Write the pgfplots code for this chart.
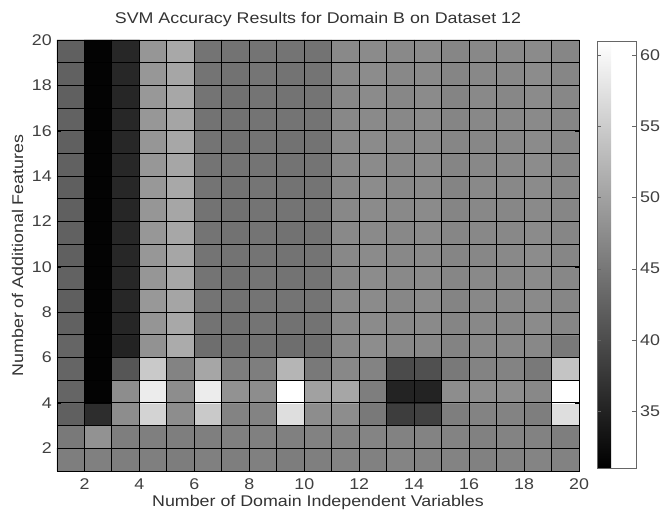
\documentclass[border=0pt]{standalone}
\usepackage{pgfplots}
\pgfplotsset{compat=1.18}
\usepackage{fontspec}
\setmainfont{Liberation Sans}[FakeStretch=1.15]
\begin{document}
\fontsize{15.5bp}{18bp}\selectfont
\begin{tikzpicture}
\useasboundingbox (0,0) rectangle (662bp,511bp);
\begin{axis}[
  at={(57bp,40bp)}, anchor=south west,
  scale only axis, width=522bp, height=431bp,
  xmin=1, xmax=20, ymin=1, ymax=20,
  xtick={2,4,...,20}, ytick={2,4,...,20},
  minor xtick={1,3,...,19}, minor ytick={1,3,...,19},
  grid=both,
  major grid style={black, line width=0.9bp},
  minor grid style={black, line width=0.9bp},
  axis on top,
  tick align=inside, major tick length=4bp, minor tick length=0pt,
  tick style={black},
  axis line style={black, line width=0.8bp},
  /pgf/number format/assume math mode=true,
  xticklabel style={anchor=base, yshift=-18bp, inner sep=0pt, text=black!75},
  yticklabel style={anchor=east, xshift=-5bp, inner sep=0pt, text=black!75},
  title={SVM Accuracy Results for Domain B on Dataset 12},
  title style={at={(axis description cs:0.5,1.0255)}, anchor=base, inner sep=0pt, text=black!80},
  xlabel={Number of Domain Independent Variables},
  xlabel style={at={(axis description cs:0.5,-0.0835)}, anchor=base, inner sep=0pt, text=black!80},
  ylabel={Number of Additional Features},
  ylabel style={at={(axis description cs:-0.0651,0.5)}, anchor=base, inner sep=0pt, text=black!80},
  colormap={bw}{gray(0cm)=(0); gray(1cm)=(1)},
  point meta min=31, point meta max=61,
  colorbar,
  colorbar shift/.style={xshift=18bp},
  colorbar style={
    at={(parent axis.north east)}, anchor=north west,
    yshift=-1bp,
    scale only axis, width=39bp, height=427bp,
    ytick={35,40,...,60},
    yticklabel pos=right, ytick pos=both,
    tick align=inside, major tick length=4bp,
    tick style={black!60},
    axis line style={black!60, line width=0.6bp},
    /pgf/number format/assume math mode=true,
    yticklabel style={anchor=west, xshift=4bp, inner sep=0pt, text=black!75},
  },
]
\addplot[matrix plot*, mesh/cols=19, mesh/rows=19, point meta=explicit] coordinates {
(1.5,1.5)[45.7] (2.5,1.5)[45.9] (3.5,1.5)[45.7] (4.5,1.5)[45.8] (5.5,1.5)[45.6] (6.5,1.5)[45.9] (7.5,1.5)[45.7] (8.5,1.5)[46.0] (9.5,1.5)[45.6] (10.5,1.5)[45.8] (11.5,1.5)[46.3] (12.5,1.5)[46.1] (13.5,1.5)[46.4] (14.5,1.5)[46.2] (15.5,1.5)[46.3] (16.5,1.5)[46.1] (17.5,1.5)[46.2] (18.5,1.5)[46.4] (19.5,1.5)[46.2]

(1.5,2.5)[45.1] (2.5,2.5)[48.1] (3.5,2.5)[45.7] (4.5,2.5)[45.8] (5.5,2.5)[45.7] (6.5,2.5)[45.8] (7.5,2.5)[46.0] (8.5,2.5)[45.9] (9.5,2.5)[46.0] (10.5,2.5)[46.2] (11.5,2.5)[46.3] (12.5,2.5)[46.4] (13.5,2.5)[46.2] (14.5,2.5)[46.3] (15.5,2.5)[46.3] (16.5,2.5)[46.1] (17.5,2.5)[46.3] (18.5,2.5)[46.2] (19.5,2.5)[45.7]

(1.5,3.5)[42.2] (2.5,3.5)[36.3] (3.5,3.5)[47.5] (4.5,3.5)[55.7] (5.5,3.5)[47.5] (6.5,3.5)[54.5] (7.5,3.5)[46.3] (8.5,3.5)[46.3] (9.5,3.5)[56.9] (10.5,3.5)[47.5] (11.5,3.5)[47.5] (12.5,3.5)[45.1] (13.5,3.5)[38.1] (14.5,3.5)[38.6] (15.5,3.5)[45.7] (16.5,3.5)[46.3] (17.5,3.5)[46.3] (18.5,3.5)[45.7] (19.5,3.5)[56.9]

(1.5,4.5)[42.8] (2.5,4.5)[31.3] (3.5,4.5)[47.5] (4.5,4.5)[58.6] (5.5,4.5)[47.5] (6.5,4.5)[58.6] (7.5,4.5)[48.1] (8.5,4.5)[47.5] (9.5,4.5)[61.0] (10.5,4.5)[49.8] (11.5,4.5)[50.4] (12.5,4.5)[45.7] (13.5,4.5)[35.1] (14.5,4.5)[35.1] (15.5,4.5)[47.5] (16.5,4.5)[47.5] (17.5,4.5)[47.5] (18.5,4.5)[46.9] (19.5,4.5)[61.0]

(1.5,5.5)[42.8] (2.5,5.5)[31.3] (3.5,5.5)[41.0] (4.5,5.5)[54.5] (5.5,5.5)[46.3] (6.5,5.5)[50.4] (7.5,5.5)[45.7] (8.5,5.5)[45.7] (9.5,5.5)[52.2] (10.5,5.5)[45.1] (11.5,5.5)[46.9] (12.5,5.5)[46.3] (13.5,5.5)[39.8] (14.5,5.5)[40.4] (15.5,5.5)[45.1] (16.5,5.5)[46.3] (17.5,5.5)[46.3] (18.5,5.5)[45.1] (19.5,5.5)[53.9]

(1.5,6.5)[42.8] (2.5,6.5)[31.3] (3.5,6.5)[35.1] (4.5,6.5)[48.1] (5.5,6.5)[51.0] (6.5,6.5)[43.9] (7.5,6.5)[43.9] (8.5,6.5)[44.2] (9.5,6.5)[43.9] (10.5,6.5)[43.9] (11.5,6.5)[46.9] (12.5,6.5)[47.5] (13.5,6.5)[46.9] (14.5,6.5)[46.9] (15.5,6.5)[46.3] (16.5,6.5)[46.9] (17.5,6.5)[46.9] (18.5,6.5)[46.9] (19.5,6.5)[45.1]

(1.5,7.5)[42.3] (2.5,7.5)[31.3] (3.5,7.5)[35.4] (4.5,7.5)[48.4] (5.5,7.5)[50.6] (6.5,7.5)[44.4] (7.5,7.5)[44.1] (8.5,7.5)[44.6] (9.5,7.5)[44.3] (10.5,7.5)[44.4] (11.5,7.5)[46.9] (12.5,7.5)[47.2] (13.5,7.5)[46.9] (14.5,7.5)[47.1] (15.5,7.5)[46.5] (16.5,7.5)[46.9] (17.5,7.5)[46.8] (18.5,7.5)[47.2] (19.5,7.5)[46.6]

(1.5,8.5)[42.1] (2.5,8.5)[31.3] (3.5,8.5)[35.6] (4.5,8.5)[48.7] (5.5,8.5)[50.3] (6.5,8.5)[44.6] (7.5,8.5)[44.3] (8.5,8.5)[44.5] (9.5,8.5)[44.5] (10.5,8.5)[44.5] (11.5,8.5)[47.0] (12.5,8.5)[47.2] (13.5,8.5)[46.8] (14.5,8.5)[47.2] (15.5,8.5)[46.4] (16.5,8.5)[46.9] (17.5,8.5)[46.9] (18.5,8.5)[47.1] (19.5,8.5)[46.7]

(1.5,9.5)[42.4] (2.5,9.5)[31.3] (3.5,9.5)[35.5] (4.5,9.5)[48.5] (5.5,9.5)[50.5] (6.5,9.5)[44.5] (7.5,9.5)[44.2] (8.5,9.5)[44.7] (9.5,9.5)[44.4] (10.5,9.5)[44.6] (11.5,9.5)[46.8] (12.5,9.5)[47.3] (13.5,9.5)[47.0] (14.5,9.5)[47.2] (15.5,9.5)[46.6] (16.5,9.5)[47.0] (17.5,9.5)[46.9] (18.5,9.5)[47.2] (19.5,9.5)[46.8]

(1.5,10.5)[42.2] (2.5,10.5)[31.3] (3.5,10.5)[35.6] (4.5,10.5)[48.6] (5.5,10.5)[50.4] (6.5,10.5)[44.5] (7.5,10.5)[44.4] (8.5,10.5)[44.6] (9.5,10.5)[44.4] (10.5,10.5)[44.5] (11.5,10.5)[46.9] (12.5,10.5)[47.2] (13.5,10.5)[46.9] (14.5,10.5)[47.1] (15.5,10.5)[46.5] (16.5,10.5)[46.8] (17.5,10.5)[47.0] (18.5,10.5)[47.3] (19.5,10.5)[46.7]

(1.5,11.5)[42.3] (2.5,11.5)[31.3] (3.5,11.5)[35.5] (4.5,11.5)[48.6] (5.5,11.5)[50.5] (6.5,11.5)[44.6] (7.5,11.5)[44.3] (8.5,11.5)[44.5] (9.5,11.5)[44.3] (10.5,11.5)[44.4] (11.5,11.5)[47.0] (12.5,11.5)[47.1] (13.5,11.5)[46.9] (14.5,11.5)[47.2] (15.5,11.5)[46.6] (16.5,11.5)[46.9] (17.5,11.5)[46.9] (18.5,11.5)[47.2] (19.5,11.5)[46.6]

(1.5,12.5)[42.2] (2.5,12.5)[31.3] (3.5,12.5)[35.4] (4.5,12.5)[48.5] (5.5,12.5)[50.4] (6.5,12.5)[44.4] (7.5,12.5)[44.2] (8.5,12.5)[44.6] (9.5,12.5)[44.5] (10.5,12.5)[44.5] (11.5,12.5)[46.9] (12.5,12.5)[47.2] (13.5,12.5)[47.0] (14.5,12.5)[47.2] (15.5,12.5)[46.5] (16.5,12.5)[46.9] (17.5,12.5)[46.8] (18.5,12.5)[47.1] (19.5,12.5)[46.7]

(1.5,13.5)[42.1] (2.5,13.5)[31.3] (3.5,13.5)[35.6] (4.5,13.5)[48.7] (5.5,13.5)[50.6] (6.5,13.5)[44.5] (7.5,13.5)[44.3] (8.5,13.5)[44.7] (9.5,13.5)[44.4] (10.5,13.5)[44.6] (11.5,13.5)[46.8] (12.5,13.5)[47.3] (13.5,13.5)[46.9] (14.5,13.5)[47.1] (15.5,13.5)[46.4] (16.5,13.5)[47.0] (17.5,13.5)[46.9] (18.5,13.5)[47.2] (19.5,13.5)[46.8]

(1.5,14.5)[42.3] (2.5,14.5)[31.3] (3.5,14.5)[35.5] (4.5,14.5)[48.6] (5.5,14.5)[50.4] (6.5,14.5)[44.6] (7.5,14.5)[44.4] (8.5,14.5)[44.5] (9.5,14.5)[44.4] (10.5,14.5)[44.5] (11.5,14.5)[46.9] (12.5,14.5)[47.2] (13.5,14.5)[46.9] (14.5,14.5)[47.2] (15.5,14.5)[46.5] (16.5,14.5)[46.9] (17.5,14.5)[47.0] (18.5,14.5)[47.3] (19.5,14.5)[46.7]

(1.5,15.5)[42.2] (2.5,15.5)[31.3] (3.5,15.5)[35.5] (4.5,15.5)[48.5] (5.5,15.5)[50.5] (6.5,15.5)[44.5] (7.5,15.5)[44.2] (8.5,15.5)[44.6] (9.5,15.5)[44.3] (10.5,15.5)[44.4] (11.5,15.5)[47.0] (12.5,15.5)[47.2] (13.5,15.5)[47.0] (14.5,15.5)[47.1] (15.5,15.5)[46.6] (16.5,15.5)[46.8] (17.5,15.5)[46.9] (18.5,15.5)[47.2] (19.5,15.5)[46.6]

(1.5,16.5)[42.4] (2.5,16.5)[31.3] (3.5,16.5)[35.6] (4.5,16.5)[48.6] (5.5,16.5)[50.3] (6.5,16.5)[44.4] (7.5,16.5)[44.3] (8.5,16.5)[44.6] (9.5,16.5)[44.5] (10.5,16.5)[44.5] (11.5,16.5)[46.9] (12.5,16.5)[47.1] (13.5,16.5)[46.9] (14.5,16.5)[47.2] (15.5,16.5)[46.5] (16.5,16.5)[46.9] (17.5,16.5)[46.9] (18.5,16.5)[47.1] (19.5,16.5)[46.7]

(1.5,17.5)[42.2] (2.5,17.5)[31.3] (3.5,17.5)[35.4] (4.5,17.5)[48.7] (5.5,17.5)[50.5] (6.5,17.5)[44.5] (7.5,17.5)[44.2] (8.5,17.5)[44.5] (9.5,17.5)[44.4] (10.5,17.5)[44.6] (11.5,17.5)[46.8] (12.5,17.5)[47.2] (13.5,17.5)[46.8] (14.5,17.5)[47.2] (15.5,17.5)[46.4] (16.5,17.5)[47.0] (17.5,17.5)[46.8] (18.5,17.5)[47.2] (19.5,17.5)[46.8]

(1.5,18.5)[42.3] (2.5,18.5)[31.3] (3.5,18.5)[35.5] (4.5,18.5)[48.6] (5.5,18.5)[50.4] (6.5,18.5)[44.6] (7.5,18.5)[44.3] (8.5,18.5)[44.7] (9.5,18.5)[44.4] (10.5,18.5)[44.5] (11.5,18.5)[46.9] (12.5,18.5)[47.3] (13.5,18.5)[46.9] (14.5,18.5)[47.1] (15.5,18.5)[46.5] (16.5,18.5)[46.9] (17.5,18.5)[46.9] (18.5,18.5)[47.3] (19.5,18.5)[46.7]

(1.5,19.5)[42.2] (2.5,19.5)[31.3] (3.5,19.5)[35.6] (4.5,19.5)[48.5] (5.5,19.5)[50.6] (6.5,19.5)[44.5] (7.5,19.5)[44.4] (8.5,19.5)[44.6] (9.5,19.5)[44.5] (10.5,19.5)[44.4] (11.5,19.5)[47.0] (12.5,19.5)[47.2] (13.5,19.5)[47.0] (14.5,19.5)[47.2] (15.5,19.5)[46.6] (16.5,19.5)[46.9] (17.5,19.5)[47.0] (18.5,19.5)[47.2] (19.5,19.5)[46.6]
};
\end{axis}
\end{tikzpicture}
\end{document}
